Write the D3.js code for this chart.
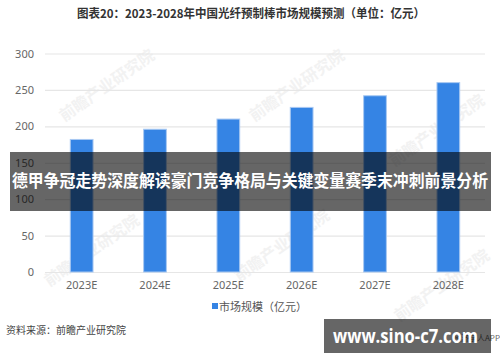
<!DOCTYPE html>
<html>
<head>
<meta charset="utf-8">
<script src="https://cdn.jsdelivr.net/npm/d3@7"></script>
<style>
  body { margin: 0; background: #fff; }
  svg { display: block; font-family: "Noto Sans CJK SC", "Noto Sans", sans-serif; }
</style>
</head>
<body>
<script>
// data
var years = ["2023E", "2024E", "2025E", "2026E", "2027E", "2028E"];
var marketSize = [182, 196, 210, 226, 242, 260];
var yTicks = [0, 50, 100, 150, 200, 250, 300];

var width = 500, height = 362;
var margin = { top: 53.5, left: 45, right: 15, bottom: 90 };

var svg = d3.select("body").append("svg")
    .attr("width", width)
    .attr("height", height);

// faint watermarks
var marks = [[110, 90], [300, 90], [95, 255], [285, 250], [440, 135], [445, 290]];
svg.append("g").selectAll("text")
    .data(marks).enter().append("text")
    .attr("transform", function (d) { return "translate(" + d[0] + "," + d[1] + ") rotate(-35)"; })
    .attr("text-anchor", "middle")
    .style("font-size", "16px")
    .style("font-weight", "bold")
    .attr("fill", "#f2f2f2")
    .text("前瞻产业研究院");

// title
svg.append("text")
    .attr("x", 77).attr("y", 18)
    .attr("textLength", 348)
    .attr("lengthAdjust", "spacingAndGlyphs")
    .style("font-size", "12px")
    .style("font-weight", "bold")
    .attr("fill", "#333")
    .text("图表20：2023-2028年中国光纤预制棒市场规模预测（单位：亿元）");

var x = d3.scaleBand()
    .domain(years)
    .range([margin.left, width - margin.right])
    .paddingInner(0.69)
    .paddingOuter(0.345);

var y = d3.scaleLinear()
    .domain([0, 300])
    .range([272, margin.top]);

// grid lines
svg.append("g")
    .attr("transform", "translate(" + margin.left + ",0)")
    .call(d3.axisLeft(y).tickValues(yTicks).tickSize(-(width - margin.left - margin.right)).tickFormat(""))
    .call(function (g) { g.select(".domain").remove(); })
    .selectAll("line")
    .attr("stroke", "#e6e6e6")
    .attr("stroke-width", 1.2);

// y labels
svg.append("g")
    .attr("transform", "translate(" + margin.left + ",0)")
    .call(d3.axisLeft(y).tickValues(yTicks).tickSize(0).tickPadding(11))
    .call(function (g) { g.select(".domain").remove(); })
    .selectAll("text")
    .style("font-size", "11px")
    .style("font-family", "\"Noto Sans\", sans-serif")
    .attr("fill", "#666");

// bars
svg.append("g").selectAll("rect")
    .data(marketSize).enter().append("rect")
    .attr("x", function (d, i) { return x(years[i]); })
    .attr("y", function (d) { return y(d); })
    .attr("width", x.bandwidth())
    .attr("height", function (d) { return y(0) - y(d); })
    .attr("fill", "#3584e4")
    .attr("stroke", "#a9c9f2")
    .attr("stroke-width", 1);

// x labels
svg.append("g")
    .attr("transform", "translate(0," + y(0) + ")")
    .call(d3.axisBottom(x).tickSize(0).tickPadding(9))
    .call(function (g) { g.select(".domain").remove(); })
    .selectAll("text")
    .style("font-size", "11px")
    .style("font-family", "\"Noto Sans\", sans-serif")
    .attr("fill", "#666");

// legend
var legend = svg.append("g").attr("transform", "translate(212,307)");
legend.append("rect")
    .attr("x", 0).attr("y", -4)
    .attr("width", 6).attr("height", 6)
    .attr("fill", "#3584e4");
legend.append("text")
    .attr("x", 7).attr("y", 0)
    .attr("dy", "0.35em")
    .style("font-size", "11px")
    .attr("fill", "#555")
    .text("市场规模（亿元）");

// source
svg.append("text")
    .attr("x", 6).attr("y", 330)
    .attr("dy", "0.35em")
    .style("font-size", "10px")
    .attr("fill", "#444")
    .text("资料来源：前瞻产业研究院");

svg.append("text")
    .attr("x", 500).attr("y", 338)
    .attr("dy", "0.35em")
    .attr("text-anchor", "end")
    .style("font-size", "8px")
    .attr("fill", "#666")
    .text("经济学人APP");

// overlay banner
svg.append("rect")
    .attr("x", 10).attr("y", 152)
    .attr("width", 481).attr("height", 59)
    .attr("fill", "#000")
    .attr("fill-opacity", 0.6);
svg.append("text")
    .attr("x", 12).attr("y", 181.5)
    .attr("dy", "0.36em")
    .attr("textLength", 476)
    .attr("lengthAdjust", "spacingAndGlyphs")
    .style("font-size", "16.5px")
    .style("font-weight", "bold")
    .attr("fill", "#fff")
    .text("德甲争冠走势深度解读豪门竞争格局与关键变量赛季末冲刺前景分析");

// site watermark box
svg.append("rect")
    .attr("x", 324).attr("y", 319)
    .attr("width", 167).attr("height", 34)
    .attr("fill", "#000")
    .attr("fill-opacity", 0.6);
svg.append("text")
    .attr("x", 333).attr("y", 336)
    .attr("dy", "0.36em")
    .attr("textLength", 145)
    .attr("lengthAdjust", "spacingAndGlyphs")
    .style("font-size", "19px")
    .style("font-weight", "bold")
    .style("font-family", "\"Open Sans\", \"DejaVu Sans\", sans-serif")
    .attr("fill", "#fff")
    .text("www.sino-c7.com");
</script>
</body>
</html>
